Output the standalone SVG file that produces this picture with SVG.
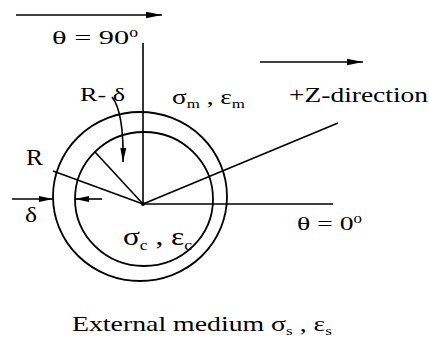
<svg xmlns="http://www.w3.org/2000/svg" width="429" height="342" viewBox="0 0 429 342">
<defs>
<style>
.ln{stroke:#000;stroke-width:1.6;fill:none}
.c{stroke:#000;stroke-width:1.8;fill:none}
.t{font-family:"Liberation Serif","Times New Roman",serif;fill:#000}
</style>
<marker id="ah" markerUnits="userSpaceOnUse" markerWidth="16" markerHeight="8" refX="16" refY="4" orient="auto">
<path d="M0,0.8 L16,4 L0,7.2 Z" fill="#000"/>
</marker>
<marker id="ahs" markerUnits="userSpaceOnUse" markerWidth="14" markerHeight="8" refX="14" refY="4" orient="auto">
<path d="M0,1 L14,4 L0,7 Z" fill="#000"/>
</marker>
</defs>
<rect width="429" height="342" fill="#fff"/>
<g id="sphere">
<ellipse class="c" cx="140" cy="196.5" rx="87" ry="84.5"/>
<ellipse class="c" cx="144" cy="199" rx="69" ry="67"/>
</g>
<g id="connectors">
<line class="ln" x1="143" y1="43" x2="143" y2="204"/>
<line class="ln" x1="143" y1="204" x2="333" y2="204"/>
<line class="ln" x1="143" y1="204" x2="338" y2="123"/>
<line class="ln" x1="143" y1="204" x2="53" y2="171"/>
<line class="ln" x1="143" y1="204" x2="95" y2="152"/>
<circle cx="143" cy="204" r="2" fill="#000"/>
<line class="ln" x1="16" y1="15" x2="162" y2="15" marker-end="url(#ah)"/>
<line class="ln" x1="260" y1="62" x2="363" y2="62" marker-end="url(#ah)"/>
<path class="ln" d="M112,97 Q124,112 123,162" marker-end="url(#ahs)"/>
<line class="ln" x1="12" y1="199" x2="53" y2="199" marker-end="url(#ahs)"/>
<line class="ln" x1="102" y1="199" x2="75" y2="199" marker-end="url(#ahs)"/>
</g>
<g id="labels">
<text class="t" x="52" y="44" font-size="19" textLength="86" lengthAdjust="spacingAndGlyphs">θ = 90<tspan font-size="11" dy="-7">0</tspan></text>
<text class="t" x="80" y="101" font-size="19" textLength="45" lengthAdjust="spacingAndGlyphs">R- δ</text>
<text class="t" x="172" y="104" font-size="21" textLength="73" lengthAdjust="spacingAndGlyphs">σ<tspan font-size="13" dy="4">m</tspan><tspan dy="-4"> , ε</tspan><tspan font-size="13" dy="4">m</tspan></text>
<text class="t" x="289" y="102" font-size="20" textLength="139" lengthAdjust="spacingAndGlyphs">+Z-direction</text>
<text class="t" x="26" y="165" font-size="24" textLength="17" lengthAdjust="spacingAndGlyphs">R</text>
<text class="t" x="25" y="222" font-size="20" textLength="12" lengthAdjust="spacingAndGlyphs">δ</text>
<text class="t" x="297" y="230" font-size="18" textLength="65" lengthAdjust="spacingAndGlyphs">θ = 0<tspan font-size="11" dy="-7">0</tspan></text>
<text class="t" x="123" y="245" font-size="25" textLength="69" lengthAdjust="spacingAndGlyphs">σ<tspan font-size="14" dy="5">c</tspan><tspan dy="-5"> , ε</tspan><tspan font-size="14" dy="5">c</tspan></text>
<text class="t" x="72" y="331" font-size="21" textLength="260" lengthAdjust="spacingAndGlyphs">External medium σ<tspan font-size="13" dy="4">s</tspan><tspan dy="-4"> , ε</tspan><tspan font-size="13" dy="4">s</tspan></text>
</g>
</svg>
